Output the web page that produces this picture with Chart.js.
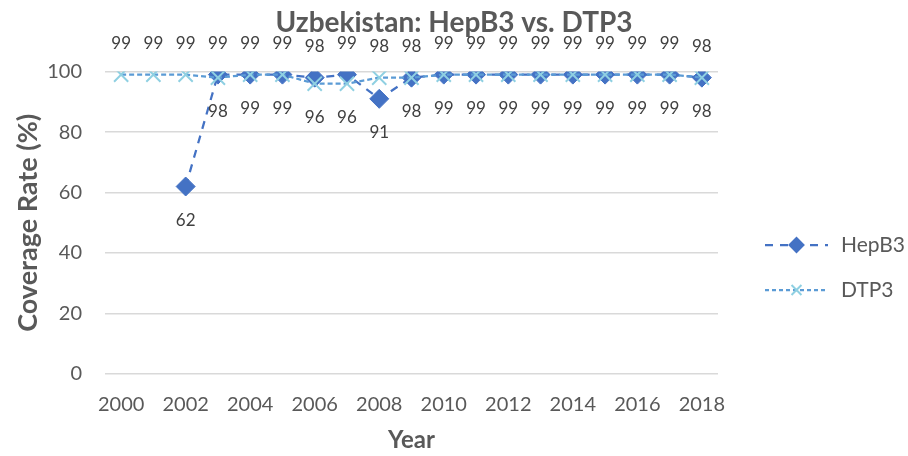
<!DOCTYPE html>
<html>
<head>
<meta charset="utf-8">
<script src="https://cdn.jsdelivr.net/npm/chart.js@4.4.1/dist/chart.umd.min.js"></script>
<style>
  html, body { margin: 0; padding: 0; background: #fff; }
  #wrap { width: 908px; height: 456px; position: relative; }
</style>
</head>
<body>
<div id="wrap"><canvas id="chart"></canvas></div>
<script>
// ── Data ─────────────────────────────────────────────
const years = ['2000', '2001', '2002', '2003', '2004', '2005', '2006', '2007', '2008', '2009',
               '2010', '2011', '2012', '2013', '2014', '2015', '2016', '2017', '2018'];
const hepB3 = [null, null, 62, 99, 99, 99, 98, 99, 91, 98, 99, 99, 99, 99, 99, 99, 99, 99, 98];
const dtp3  = [99, 99, 99, 98, 99, 99, 96, 96, 98, 98, 99, 99, 99, 99, 99, 99, 99, 99, 98];
const yTicks = [0, 20, 40, 60, 80, 100];

const FONT = "Lato, 'Open Sans', sans-serif";
const TEXT = '#595959';
const HEP_COLOR = '#4472C4';
const DTP_LINE = '#5B9BD5';
const DTP_MARK = '#8FD0E2';

Chart.defaults.font.family = FONT;
Chart.defaults.color = TEXT;

// ── Title centred on the whole canvas, not the padded area ──
const wideTitle = {
  id: 'wideTitle',
  afterLayout(chart) {
    const t = chart.titleBlock;
    if (!t) return;
    t.left = 0;
    t.right = chart.width;
    t.width = chart.width;
  },
};

// ── Value labels: higher value above the point, lower one below ──
const valueLabels = {
  id: 'valueLabels',
  afterDatasetsDraw(chart) {
    const { ctx } = chart;
    const y = chart.scales.y;
    ctx.save();
    ctx.font = '17px ' + FONT;
    ctx.fillStyle = '#404040';
    ctx.textAlign = 'center';
    ctx.textBaseline = 'middle';
    chart.data.datasets.forEach((ds, di) => {
      const meta = chart.getDatasetMeta(di);
      ds.data.forEach((v, i) => {
        if (v == null) return;
        const other = chart.data.datasets[1 - di].data[i];
        let above;
        if (other == null) above = true;
        else if (v !== other) above = v > other;
        else above = di === 0;
        const pt = meta.data[i];
        ctx.fillText(String(v), pt.x, y.getPixelForValue(v) + (above ? -31 : 34));
      });
    });
    ctx.restore();
  },
};

// ── Legend drawn at the right ─────────────────────────
const sideLegend = {
  id: 'sideLegend',
  afterDraw(chart) {
    const { ctx } = chart;
    const items = [
      { label: 'HepB3', color: HEP_COLOR, mark: HEP_COLOR, dash: [8, 7], style: 'rectRot', r: 7, y: 245 },
      { label: 'DTP3', color: DTP_LINE, mark: DTP_MARK, dash: [4, 3], style: 'crossRot', r: 7, y: 290 },
    ];
    const x0 = 765, x1 = 828;
    items.forEach(it => {
      ctx.save();
      ctx.strokeStyle = it.color;
      ctx.lineWidth = 2.25;
      ctx.setLineDash(it.dash);
      ctx.beginPath();
      ctx.moveTo(x0, it.y);
      ctx.lineTo(x1, it.y);
      ctx.stroke();
      ctx.setLineDash([]);
      ctx.fillStyle = it.mark;
      ctx.strokeStyle = it.mark;
      ctx.lineWidth = 2;
      Chart.helpers.drawPoint(ctx, { pointStyle: it.style, radius: it.r, borderWidth: 2 }, (x0 + x1) / 2, it.y);
      ctx.font = '21px ' + FONT;
      ctx.fillStyle = TEXT;
      ctx.textAlign = 'left';
      ctx.textBaseline = 'middle';
      ctx.fillText(it.label, 841, it.y);
      ctx.restore();
    });
  },
};

new Chart(document.getElementById('chart'), {
  type: 'line',
  data: {
    labels: years,
    datasets: [
      {
        label: 'HepB3',
        data: hepB3,
        borderColor: HEP_COLOR,
        backgroundColor: HEP_COLOR,
        borderWidth: 2.25,
        borderDash: [8, 7],
        pointStyle: 'rectRot',
        pointRadius: 9.5,
        pointBackgroundColor: HEP_COLOR,
        pointBorderColor: HEP_COLOR,
        pointBorderWidth: 1,
        spanGaps: false,
        tension: 0,
        fill: false,
        order: 1,
      },
      {
        label: 'DTP3',
        data: dtp3,
        borderColor: DTP_LINE,
        backgroundColor: DTP_MARK,
        borderWidth: 2.25,
        borderDash: [5, 3],
        pointStyle: 'crossRot',
        pointRadius: 10,
        pointBorderColor: DTP_MARK,
        pointBorderWidth: 2,
        tension: 0,
        fill: false,
        order: 0,
      },
    ],
  },
  options: {
    responsive: true,
    maintainAspectRatio: false,
    animation: false,
    layout: { padding: { left: 6, right: 190, top: 4, bottom: 0 } },
    plugins: {
      legend: { display: false },
      tooltip: { enabled: false },
      title: {
        display: true,
        text: 'Uzbekistan: HepB3 vs. DTP3',
        color: TEXT,
        font: { size: 28, weight: 'bold' },
        padding: { top: 2, bottom: 32 },
      },
    },
    scales: {
      x: {
        offset: true,
        grid: { display: false },
        border: { display: false },
        ticks: {
          autoSkip: false,
          maxRotation: 0,
          color: TEXT,
          font: { size: 20 },
          padding: 11,
          callback(val, i) { return i % 2 === 0 ? years[i] : ''; },
        },
        title: { display: true, text: 'Year', color: TEXT, font: { size: 24, weight: 'bold' }, padding: { top: 0, bottom: 1 } },
        afterFit(axis) { axis.height = 82; },
      },
      y: {
        min: 0,
        max: 100,
        afterBuildTicks(axis) { axis.ticks = yTicks.map(v => ({ value: v })); },
        grid: { color: '#d9d9d9', lineWidth: 1.5, drawTicks: false },
        border: { display: false },
        ticks: { color: TEXT, font: { size: 20 }, padding: 23 },
        title: { display: true, text: 'Coverage Rate (%)', color: TEXT, font: { size: 27, weight: 'bold' }, padding: { top: 6, bottom: 3 } },
        afterFit(axis) { axis.width = 99; },
      },
    },
  },
  plugins: [wideTitle, valueLabels, sideLegend],
});
</script>
</body>
</html>
